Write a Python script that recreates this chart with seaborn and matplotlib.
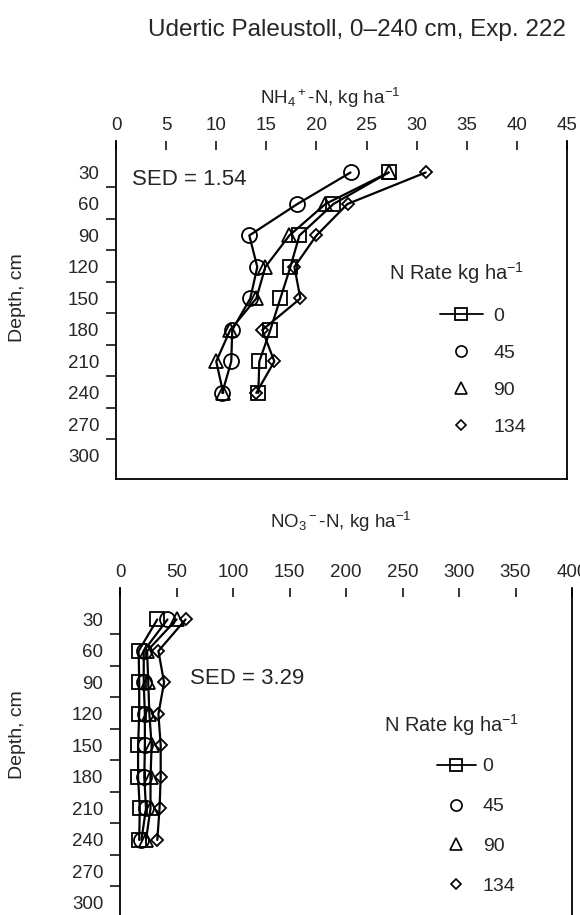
import numpy as np
import pandas as pd
import seaborn as sns
import matplotlib.pyplot as plt
from matplotlib.lines import Line2D

# depth of each sampled layer, cm
depth = [30, 60, 90, 120, 150, 180, 210, 240]
depth_labels = [30, 60, 90, 120, 150, 180, 210, 240, 270, 300]
rates = ["0", "45", "90", "134"]

# NH4+-N, kg/ha, per N rate
nh4_0 = [27.2, 21.7, 18.3, 17.4, 16.4, 15.4, 14.3, 14.2]
nh4_45 = [23.4, 18.1, 13.3, 14.1, 13.4, 11.6, 11.5, 10.6]
nh4_90 = [27.2, 20.9, 17.3, 14.9, 14.0, 11.4, 10.0, 10.7]
nh4_134 = [30.9, 23.1, 20.0, 17.8, 18.4, 14.6, 15.8, 14.0]

# NO3--N, kg/ha, per N rate
no3_0 = [33, 16.5, 17, 17, 16, 16, 17.5, 17]
no3_45 = [42, 21, 21, 22, 22, 21.5, 23, 19]
no3_90 = [50, 24, 25, 26, 28, 27, 27, 23]
no3_134 = [58, 34, 39, 34, 36, 36, 35, 33]

nh4_ticks = list(range(0, 50, 5))
no3_ticks = list(range(0, 450, 50))

sns.set_style("ticks")
plt.rcParams["font.family"] = ["Liberation Sans", "DejaVu Sans"]
plt.rcParams["mathtext.fontset"] = "custom"
plt.rcParams["mathtext.rm"] = "Liberation Sans"
plt.rcParams["mathtext.it"] = "Liberation Sans:italic"
plt.rcParams["mathtext.bf"] = "Liberation Sans:bold"
plt.rcParams["mathtext.default"] = "regular"

W, H = 580, 915
fig = plt.figure(figsize=(W / 100, H / 100), dpi=100)


def px_axes(left, top, right, bottom):
    return fig.add_axes([left / W, 1 - bottom / H, (right - left) / W, (bottom - top) / H])


markers = {"0": "s", "45": "o", "90": "^", "134": "D"}
msize = {"0": 9.4, "45": 10.8, "90": 10.0, "134": 6.3}


def panel(ax, series, xticks, xmax, xlabel, sed_xy, sed_text, label_xy):
    for rate, vals in zip(rates, series):
        sns.lineplot(x=vals, y=depth, orient="y", ax=ax, color="k", lw=1.6,
                     marker=markers[rate], markersize=msize[rate], mfc="none",
                     mec="k", mew=1.3, legend=False)
    ax.set_xlim(0, xmax)
    ax.set_ylim(322, 0)
    ax.xaxis.tick_top()
    ax.set_xticks(xticks)
    ax.tick_params(axis="x", direction="in", length=6.5, width=1.3, pad=5,
                   labelsize=13.5, top=True, bottom=False)
    ax.set_yticks(depth_labels)
    ax.set_yticks([d + 14 for d in depth_labels[:-1]], minor=True)
    ax.tick_params(axis="y", which="major", length=0, pad=12, labelsize=13.5)
    ax.tick_params(axis="y", which="minor", direction="out", length=7, width=1.3, left=True)
    ax.xaxis.set_label_position("top")
    ax.set_xlabel(xlabel, fontsize=13.5)
    ax.xaxis.set_label_coords(*label_xy)
    ax.set_ylabel("Depth, cm", fontsize=14)
    ax.spines["top"].set_visible(False)
    for s in ["left", "right", "bottom"]:
        ax.spines[s].set_linewidth(1.3)
        ax.spines[s].set_color("k")
    ax.text(sed_xy[0], sed_xy[1], sed_text, fontsize=16, ha="left", va="center")


def rate_legend(ax, title_xy, entries_xy, spacing, hlen, hpad):
    fig.text(title_xy[0] / W, 1 - title_xy[1] / H, "N Rate kg ha$^{-1}$", fontsize=14.5,
             ha="left", va="center")
    handles = [
        Line2D([], [], color="k", lw=1.3, marker="s", markersize=8.5, mfc="none", mec="k", mew=1.3),
        Line2D([], [], ls="none", marker="o", markersize=8, mfc="none", mec="k", mew=1.2),
        Line2D([], [], ls="none", marker="^", markersize=8, mfc="none", mec="k", mew=1.2),
        Line2D([], [], ls="none", marker="D", markersize=5.5, mfc="none", mec="k", mew=1.2),
    ]
    ax.legend(handles, rates, fontsize=14, frameon=False, loc="center left",
              bbox_to_anchor=(entries_xy[0] / W, 1 - entries_xy[1] / H),
              bbox_transform=fig.transFigure, borderpad=0, borderaxespad=0,
              handlelength=hlen, handletextpad=hpad, labelspacing=spacing)


ax1 = px_axes(116, 141, 567, 479)
panel(ax1, [nh4_0, nh4_45, nh4_90, nh4_134], nh4_ticks, 45,
      r"NH$_4$$^+$-N, kg ha$^{-1}$", (1.6, 37), "SED = 1.54", (0.475, 1.109))
ax1.yaxis.set_label_coords((26 - 116) / 451, (479 - 298) / 338)
rate_legend(ax1, (389, 273), (440, 371.5), 1.0, 2.2, 0.55)

ax2 = px_axes(120, 588, 572, 926)
panel(ax2, [no3_0, no3_45, no3_90, no3_134], no3_ticks, 400,
      r"NO$_3$$^-$-N, kg ha$^{-1}$", (62, 86), "SED = 3.29", (0.489, 1.178))
ax2.spines["bottom"].set_visible(False)
ax2.yaxis.set_label_coords((26 - 120) / 452, (926 - 735) / 338)
rate_legend(ax2, (384, 725), (437, 826.5), 1.15, 2.0, 0.35)

fig.suptitle("Udertic Paleustoll, 0\u2013240 cm, Exp. 222", x=357 / W, y=1 - 30 / H,
             va="center", fontsize=17.5)

fig.savefig("out.png", dpi=100)
